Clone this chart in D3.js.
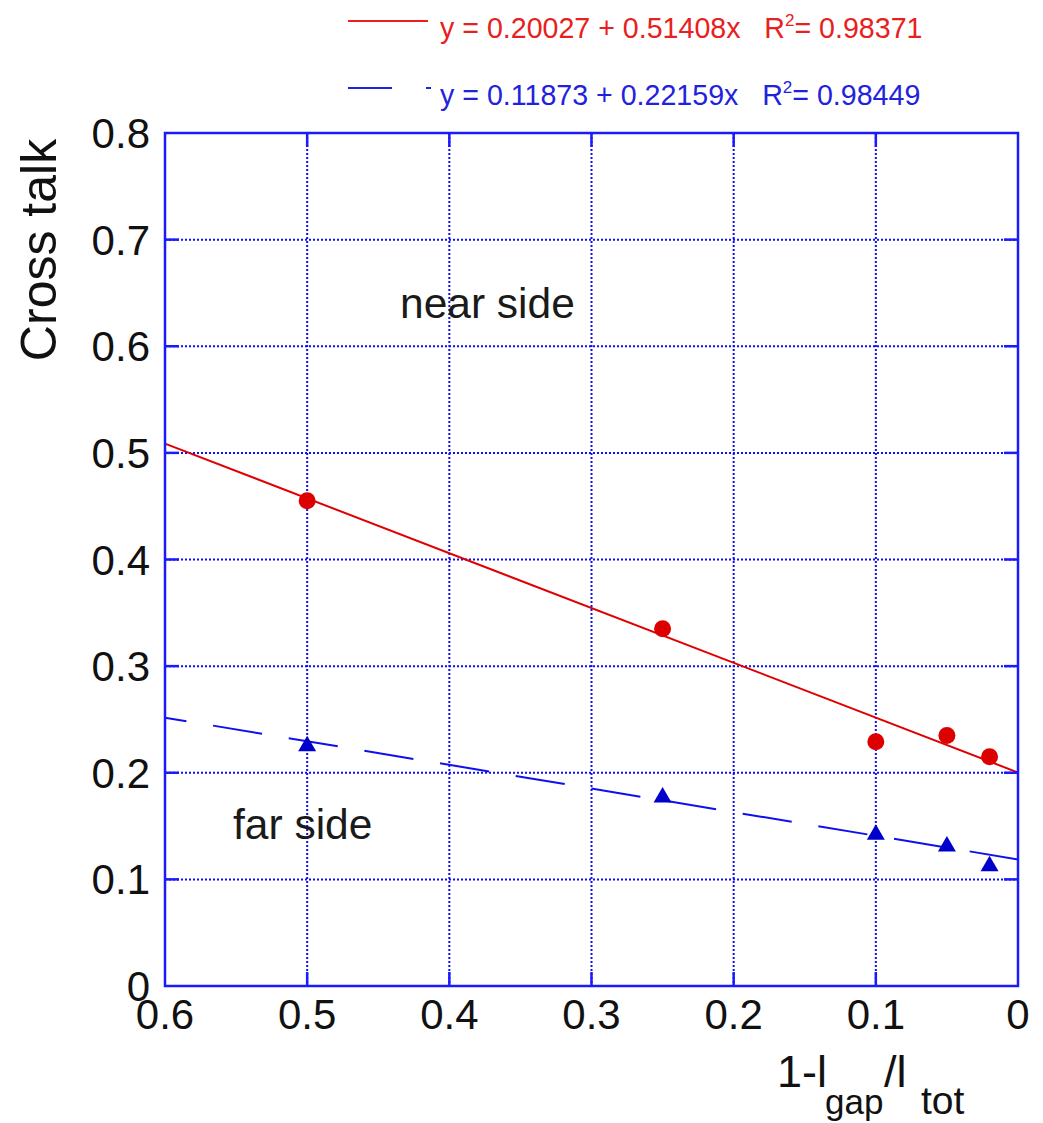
<!DOCTYPE html>
<html>
<head>
<meta charset="utf-8">
<script src="https://cdn.jsdelivr.net/npm/d3@7"></script>
<style>
  html, body { margin: 0; padding: 0; background: #fff; }
  svg { display: block; font-family: "Liberation Sans", Arial, Helvetica, sans-serif; }
  .legend-text { white-space: pre; }
</style>
</head>
<body>
<svg id="chart" width="1043" height="1123"></svg>
<script>
// Fraction 1 - l_gap/l_tot for each measurement
const xValues = [0.5, 0.25, 0.1, 0.05, 0.02];
// Near side cross talk (circles)
const nearValues = [0.455, 0.335, 0.229, 0.235, 0.215];
// Far side cross talk (triangles)
const farValues = [0.225, 0.177, 0.142, 0.131, 0.1125];
// Linear fits: [intercept, slope, R^2]
const nearFit = [0.20027, 0.51408, 0.98371];
const farFit = [0.11873, 0.22159, 0.98449];
// Axis ticks
const xTicks = [0.6, 0.5, 0.4, 0.3, 0.2, 0.1, 0];
const yTicks = [0, 0.1, 0.2, 0.3, 0.4, 0.5, 0.6, 0.7, 0.8];

const RED = "#e00000";
const BLUE = "#1010ee";
const FRAME = "#1a1aff";

const svg = d3.select("#chart");
const plot = { left: 165, right: 1018, top: 133, bottom: 986 };

const x = d3.scaleLinear().domain([0.6, 0]).range([plot.left, plot.right]);
const y = d3.scaleLinear().domain([0, 0.8]).range([plot.bottom, plot.top]);

const xInner = xTicks.filter(d => d > 0 && d < 0.6);
const yInner = yTicks.filter(d => d > 0 && d < 0.8);

// dotted grid
const grid = svg.append("g")
  .attr("stroke", BLUE).attr("stroke-width", 2).attr("stroke-dasharray", "2,2");
grid.selectAll("line.v").data(xInner).join("line").attr("class", "v")
  .attr("x1", d => x(d)).attr("x2", d => x(d)).attr("y1", plot.top).attr("y2", plot.bottom);
grid.selectAll("line.h").data(yInner).join("line").attr("class", "h")
  .attr("x1", plot.left).attr("x2", plot.right).attr("y1", d => y(d)).attr("y2", d => y(d));

// fit lines
const fitLine = f => d3.line().x(d => x(d)).y(d => y(f[0] + f[1] * d))([0.6, 0]);
svg.append("path").attr("d", fitLine(nearFit))
  .attr("fill", "none").attr("stroke", RED).attr("stroke-width", 2);
svg.append("path").attr("d", fitLine(farFit))
  .attr("fill", "none").attr("stroke", BLUE).attr("stroke-width", 2)
  .attr("stroke-dasharray", "49.7,27").attr("stroke-dashoffset", 28);

// markers
svg.append("g").selectAll("circle").data(xValues).join("circle")
  .attr("cx", d => x(d)).attr("cy", (d, i) => y(nearValues[i])).attr("r", 8.5)
  .attr("fill", "#dd0000");
const tri = d3.symbol().type(d3.symbolTriangle).size(140);
svg.append("g").selectAll("path").data(xValues).join("path")
  .attr("d", tri)
  .attr("transform", (d, i) => `translate(${x(d)},${y(farValues[i])})`)
  .attr("fill", "#0000cc");

// frame and inward ticks
svg.append("rect").attr("x", plot.left).attr("y", plot.top)
  .attr("width", plot.right - plot.left).attr("height", plot.bottom - plot.top)
  .attr("fill", "none").attr("stroke", FRAME).attr("stroke-width", 2.5);

const tickLen = 14;
const ticks = svg.append("g").attr("stroke", FRAME).attr("stroke-width", 2.5);
ticks.selectAll("line.b").data(xInner).join("line").attr("class", "b")
  .attr("x1", d => x(d)).attr("x2", d => x(d)).attr("y1", plot.bottom).attr("y2", plot.bottom - tickLen);
ticks.selectAll("line.t").data(xInner).join("line").attr("class", "t")
  .attr("x1", d => x(d)).attr("x2", d => x(d)).attr("y1", plot.top).attr("y2", plot.top + tickLen);
ticks.selectAll("line.l").data(yInner).join("line").attr("class", "l")
  .attr("x1", plot.left).attr("x2", plot.left + tickLen).attr("y1", d => y(d)).attr("y2", d => y(d));
ticks.selectAll("line.r").data(yInner).join("line").attr("class", "r")
  .attr("x1", plot.right).attr("x2", plot.right - tickLen).attr("y1", d => y(d)).attr("y2", d => y(d));

// tick labels
const fmt = d => d === 0 ? "0" : d3.format(".1f")(d);
svg.append("g").selectAll("text").data(xTicks).join("text")
  .attr("x", d => x(d)).attr("y", 1029).attr("text-anchor", "middle")
  .attr("font-size", 42).attr("fill", "#111").text(fmt);
svg.append("g").selectAll("text").data(yTicks).join("text")
  .attr("x", 150).attr("y", d => y(d) + 15).attr("text-anchor", "end")
  .attr("font-size", 42).attr("fill", "#111").text(fmt);

// axis titles
svg.append("text").attr("transform", "translate(56,250) rotate(-90)")
  .attr("text-anchor", "middle").attr("font-size", 50).attr("fill", "#111")
  .text("Cross talk");
const xt = svg.append("text").attr("y", 1087).attr("font-size", 45).attr("fill", "#111");
xt.append("tspan").attr("x", 777).text("1-l");
xt.append("tspan").attr("x", 825).attr("dy", 27).attr("font-size", 35).text("gap");
xt.append("tspan").attr("x", 884).attr("dy", -27).text("/l");
xt.append("tspan").attr("x", 921).attr("dy", 27).attr("font-size", 39).text("tot");

// region annotations
svg.append("text").attr("x", 400).attr("y", 318).attr("font-size", 42.5)
  .attr("fill", "#1a1a1a").text("near side");
svg.append("text").attr("x", 233).attr("y", 839).attr("font-size", 42.5)
  .attr("fill", "#1a1a1a").text("far side");

// legend
function legendRow(yPos, color, fit, dashed) {
  const l = svg.append("line").attr("x1", 348).attr("x2", dashed ? 431 : 428)
    .attr("y1", yPos).attr("y2", yPos).attr("stroke", color).attr("stroke-width", 2);
  if (dashed) l.attr("stroke-dasharray", "44,34");
  const t = svg.append("text").attr("class", "legend-text").attr("x", 440).attr("y", yPos + 17)
    .attr("font-size", 28.6).attr("fill", color);
  t.append("tspan").text(`y = ${fit[0].toFixed(5)} + ${fit[1].toFixed(5)}x   R`);
  t.append("tspan").attr("dy", -12).attr("font-size", 17).text("2");
  t.append("tspan").attr("dy", 12).text(`= ${fit[2].toFixed(5)}`);
}
legendRow(21, "#e82020", nearFit, false);
legendRow(88, "#2222dd", farFit, true);
</script>
</body>
</html>
